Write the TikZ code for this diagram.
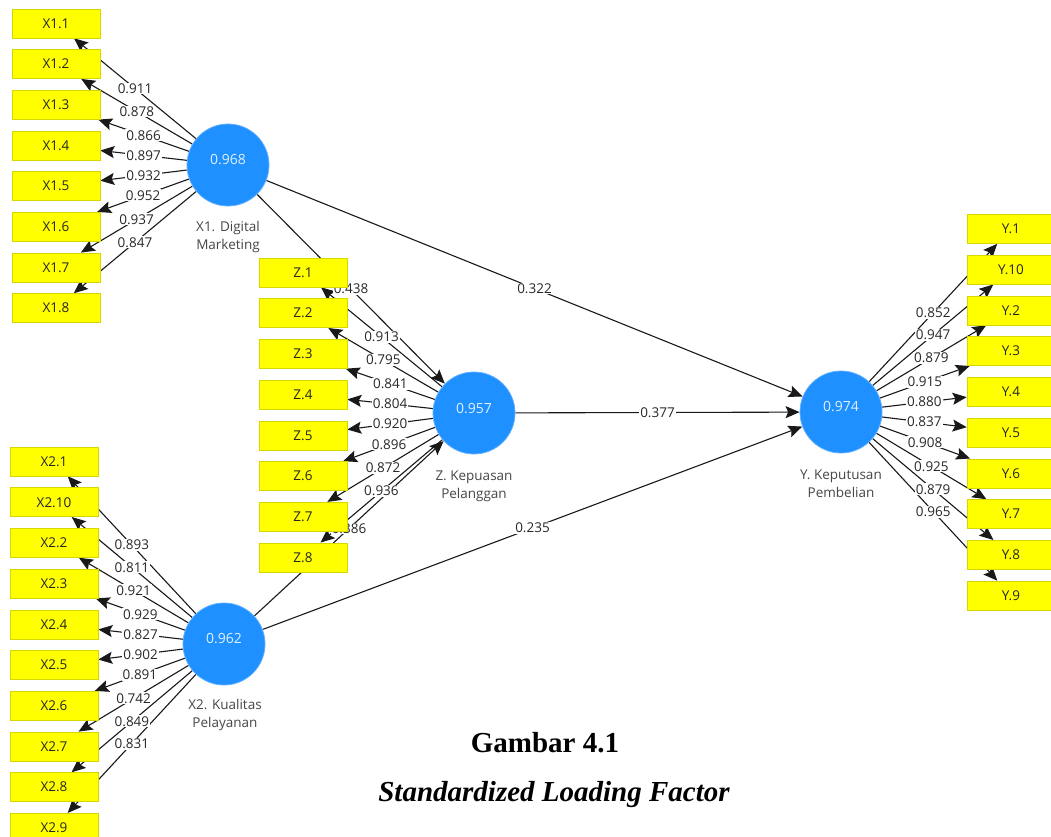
\documentclass[tikz,border=0pt]{standalone}
\usepackage{fontspec}
\setmainfont{Open Sans}
\newfontfamily\capfont{Liberation Serif}
\usetikzlibrary{arrows.meta}
\pgfdeclarelayer{bg}
\pgfsetlayers{bg,main}
\definecolor{boxyellow}{RGB}{255,255,0}
\definecolor{boxedge}{RGB}{215,215,0}
\definecolor{lvblue}{RGB}{30,144,255}
\definecolor{lvedge}{RGB}{100,175,255}
\definecolor{lvtext}{RGB}{225,240,255}
\definecolor{edgecol}{RGB}{25,25,25}
\definecolor{lbltext}{RGB}{40,40,40}
\tikzset{
 ind/.style={rectangle, fill=boxyellow, draw=boxedge, line width=0.6pt, minimum width=88pt, minimum height=29pt, inner sep=0pt, font=\fontsize{13.5}{15}\selectfont, text=black!85},
 lv/.style={circle, fill=lvblue, draw=lvedge, line width=0.8pt, minimum size=82pt, inner sep=0pt},
 lvval/.style={text=lvtext, font=\fontsize{14}{16}\selectfont},
 lvname/.style={align=center, text=black!72, font=\fontsize{13.5}{18}\selectfont},
 conn/.style={draw=edgecol, line width=1.1pt, -{Stealth[length=14pt,width=12pt,inset=2.5pt]}},
 lbl/.style={fill=white, inner sep=1pt, text=lbltext, font=\fontsize{13.5}{15}\selectfont},
 captitle/.style={font=\capfont\bfseries\fontsize{29}{33}\selectfont},
 capsub/.style={font=\capfont\bfseries\itshape\fontsize{29}{33}\selectfont},
}
\begin{document}
\begin{tikzpicture}[x=1pt,y=-1pt]
\clip (0,0) rectangle (1051,837);
% latent variables
\node[lv] (X1) at (228,165) {};
\node[lvval] (X1v) at (228,160) {0.968};
\node[lvname] (X1n) at (228,237) {X1. Digital\\Marketing};
\node[lv] (Z) at (474,413) {};
\node[lvval] (Zv) at (474,409) {0.957};
\node[lvname] (Zn) at (474,486) {Z. Kepuasan\\Pelanggan};
\node[lv] (X2) at (224,644) {};
\node[lvval] (X2v) at (224,639) {0.962};
\node[lvname] (X2n) at (225,715) {X2. Kualitas\\Pelayanan};
\node[lv] (Y) at (841,412) {};
\node[lvval] (Yv) at (841,407) {0.974};
\node[lvname] (Yn) at (841,484) {Y. Keputusan\\Pembelian};
% indicators
\foreach \i [count=\k from 0] in {1,...,8}
  \node[ind] (X1-\i) at (56,{23.5+40.65*\k}) {X1.\i};
\foreach \i [count=\k from 0] in {1,...,8}
  \node[ind] (Z-\i) at (303,{272.5+40.7*\k}) {Z.\i};
\foreach \i [count=\k from 0] in {1,10,2,3,4,5,6,7,8,9}
  \node[ind] (X2-\i) at (54,{461.5+40.7*\k}) {X2.\i};
\foreach \i [count=\k from 0] in {1,10,2,3,4,5,6,7,8,9}
  \node[ind] (Y-\i) at (1011,{229+40.72*\k}) {Y.\i};
% caption
\node[captitle] (cap1) at (545,743) {Gambar 4.1};
\node[capsub] (cap2) at (554,795) {Standardized Loading Factor};
\begin{pgfonlayer}{bg}
\fill[white] (0,0) rectangle (1051,837);
\foreach \i in {1,...,8} \draw[conn] (X1) -- (X1-\i);
\foreach \i in {1,...,8} \draw[conn] (Z) -- (Z-\i);
\foreach \i in {1,10,2,3,4,5,6,7,8,9} \draw[conn] (X2) -- (X2-\i);
\foreach \i in {1,10,2,3,4,5,6,7,8,9} \draw[conn] (Y) -- (Y-\i);
\draw[conn] (X1) -- (Z);
\draw[conn] (X2) -- (Z);
\draw[conn] (X1) -- (Y);
\draw[conn] (X2) -- (Y);
\draw[conn] (Z) -- (Y);
% labels
\foreach \i/\v in {1/0.911,2/0.878,3/0.866,4/0.897,5/0.932,6/0.952,7/0.937,8/0.847}
  \path (X1) -- node[lbl]{\v} (X1-\i);
\foreach \i/\v in {1/0.913,2/0.795,3/0.841,4/0.804,5/0.920,6/0.896,7/0.872,8/0.936}
  \path (Z) -- node[lbl]{\v} (Z-\i);
\foreach \i/\v in {1/0.893,10/0.811,2/0.921,3/0.929,4/0.827,5/0.902,6/0.891,7/0.742,8/0.849,9/0.831}
  \path (X2) -- node[lbl]{\v} (X2-\i);
\foreach \i/\v in {1/0.852,10/0.947,2/0.879,3/0.915,4/0.880,5/0.837,6/0.908,7/0.925,8/0.879,9/0.965}
  \path (Y) -- node[lbl]{\v} (Y-\i);
\path (X1) -- node[lbl]{0.438} (Z);
\path (X2) -- node[lbl]{0.386} (Z);
\path (X1) -- node[lbl]{0.322} (Y);
\path (X2) -- node[lbl]{0.235} (Y);
\path (Z) -- node[lbl]{0.377} (Y);
\end{pgfonlayer}
\end{tikzpicture}
\end{document}
